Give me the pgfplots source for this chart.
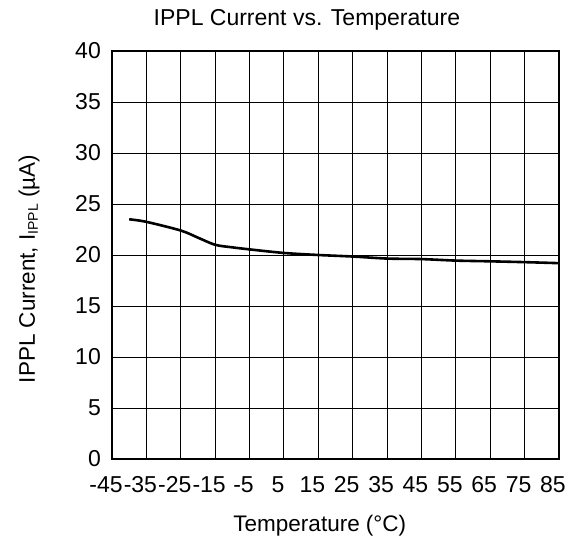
\documentclass[border=0pt]{standalone}
\usepackage{fontspec}
\setmainfont{Liberation Sans}
\usepackage{pgfplots}
\pgfplotsset{compat=1.18}
\begin{document}
\fontsize{23}{27}\selectfont
\begin{tikzpicture}[x=1pt,y=1pt]
\useasboundingbox (-112,-84) rectangle (467,459);
\begin{axis}[
  at={(0,0)}, anchor=south west,
  scale only axis, width=447pt, height=408pt,
  xmin=-45, xmax=85, ymin=0, ymax=40,
  xtick={-45,-35,...,85}, ytick={0,5,...,40},
  grid=major, grid style={black, line width=0.9pt},
  axis line style={black, line width=1.6pt},
  tick style={draw=none},
  /pgf/number format/assume math mode=true,
  ticklabel style={font=\fontsize{23}{27}\selectfont},
  xticklabel style={anchor=base, inner sep=0pt, yshift=-34pt, xshift=-6pt},
  yticklabel style={anchor=east, inner sep=0pt, xshift=-11pt},
  title={IPPL Current vs. Temperature},
  title style={at={(axis description cs:0.436,1)}, anchor=base, yshift=19pt, inner sep=0pt, font=\fontsize{23}{27}\selectfont},
  xlabel={Temperature (°C)},
  xlabel style={at={(axis description cs:0.465,0)}, anchor=base, yshift=-73pt, inner sep=0pt, font=\fontsize{22.5}{27}\selectfont},
  ylabel={IPPL Current, I\raisebox{-3pt}{\fontsize{14}{14}\selectfont IPPL} (µA)},
  ylabel style={at={(axis description cs:-0.1723,0.4657)}, anchor=base, inner sep=0pt, font=\fontsize{22.5}{27}\selectfont},
]
\addplot[black, line width=2.6pt, smooth, tension=0.5] coordinates {
(-40,23.5) (-35,23.25) (-25,22.4) (-20,21.7) (-15,21.0) (-10,20.75) (-5,20.55)
(5,20.2) (15,20.0) (25,19.85) (35,19.65) (45,19.6) (55,19.45) (65,19.38) (75,19.3) (85,19.2)
};
\end{axis}
\end{tikzpicture}
\end{document}
